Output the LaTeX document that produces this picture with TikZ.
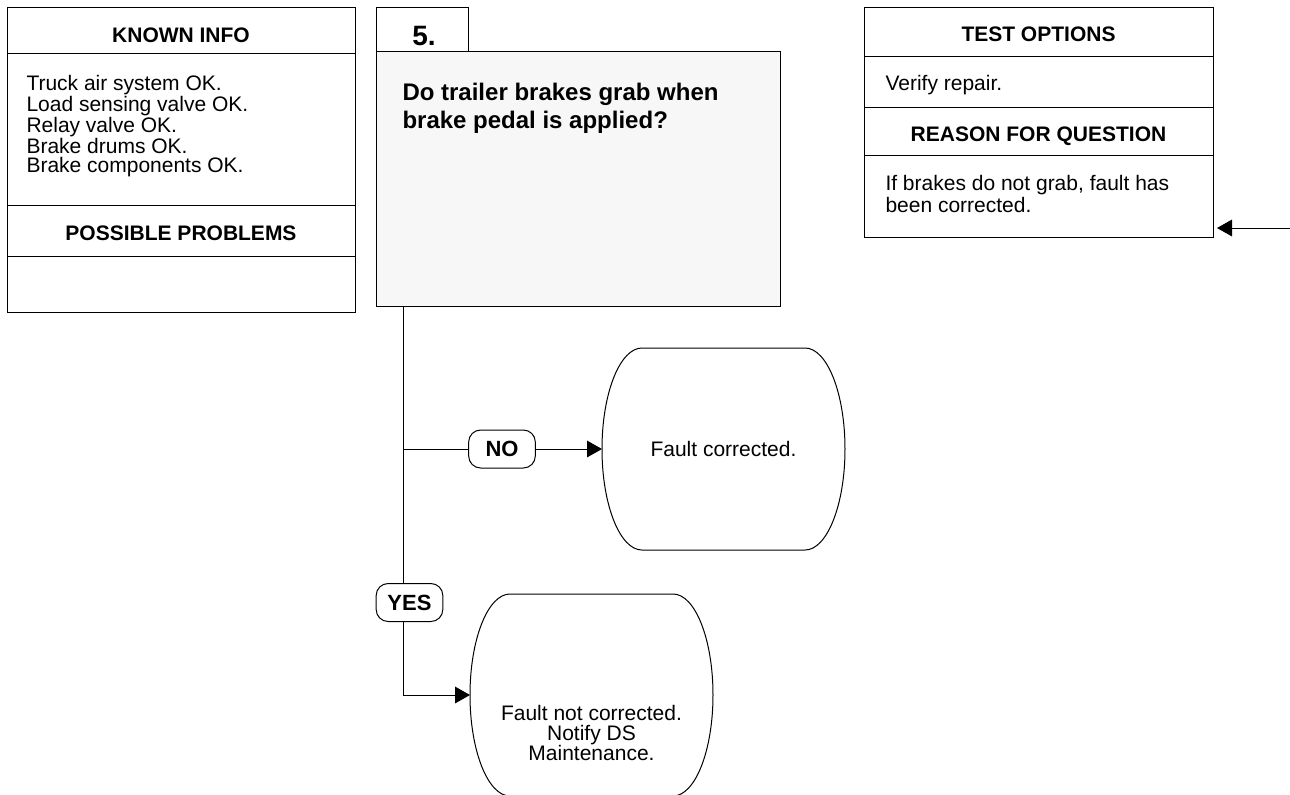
\documentclass[tikz,border=0pt]{standalone}
\usepackage{fontspec}
\setmainfont{Liberation Sans}
\usetikzlibrary{arrows.meta}

\definecolor{qfill}{RGB}{247,247,247}
\tikzset{every picture/.style={line width=0.75pt}}
\tikzset{
  bodytext/.style={font=\fontsize{15.75}{14.4}\selectfont},
  headtext/.style={font=\bfseries\fontsize{15.75}{14.4}\selectfont},
  questext/.style={font=\bfseries\fontsize{18}{21}\selectfont},
  branch/.style={draw, fill=white, rounded corners=9pt, minimum width=50pt, minimum height=28.5pt, inner sep=0pt, outer sep=0pt, font=\bfseries\fontsize{16.5}{16.5}\selectfont},
  terminal/.style={minimum width=182.25pt, minimum height=151.5pt, inner sep=0pt, outer sep=0pt, align=center, font=\fontsize{15.75}{15}\selectfont},
  flow/.style={-{Triangle[length=11.25pt,width=12.5pt]}},
}
% outline of a terminal: flat top and bottom, elliptic sides
\newcommand{\termoutline}[1]{%
  \draw ([xshift=30pt]#1.north west) -- ([xshift=-30pt]#1.north east)
    arc[start angle=-90, end angle=90, x radius=40, y radius=101]
    -- ([xshift=30pt]#1.south west)
    arc[start angle=90, end angle=270, x radius=40, y radius=101] -- cycle;}

\begin{document}
\begin{tikzpicture}[x=0.75pt,y=0.75pt,yscale=-1,xscale=1]
			\useasboundingbox (0,0) rectangle (1290,794);
			\clip (0,0) rectangle (1290,794);
			
			%Shape: Rectangle [id:known_panel] 
			\draw   (7,7) rectangle (355,312) ;
			%Straight Lines [id:known_rule1] 
			\draw    (7,53) -- (355,53) ;
			%Straight Lines [id:known_rule2] 
			\draw    (7,205) -- (355,205) ;
			%Straight Lines [id:known_rule3] 
			\draw    (7,256) -- (355,256) ;
			
			%Shape: Rectangle [id:step_tab] 
			\draw   (376,7) rectangle (468,51) ;
			%Shape: Rectangle [id:question_box] 
			\node [draw, fill=qfill, minimum width=303pt, minimum height=191.25pt, inner sep=0pt, outer sep=0pt] (q5) at (578,178.5) {};
			
			%Shape: Rectangle [id:test_panel] 
			\draw   (864,7) rectangle (1213,237) ;
			%Straight Lines [id:test_rule1] 
			\draw    (864,56) -- (1213,56) ;
			%Straight Lines [id:test_rule2] 
			\draw    (864,107) -- (1213,107) ;
			%Straight Lines [id:test_rule3] 
			\draw    (864,155) -- (1213,155) ;
			
			%Shape: Terminals 
			\node [terminal] (term1) at (723.5,449) {Fault corrected.};
			\node [terminal] (term2) at (591.5,695) {};
			\termoutline{term1}
			\termoutline{term2}
			
			%Shape: Branch labels 
			\node [branch] (no) at (502,449) {NO};
			\node [branch] (yes) at (409.5,602.5) {YES};
			
			%Connectors 
			\coordinate (trunk) at (403,306);
			\draw    (trunk) -- (trunk |- yes.north) ;
			\draw    (trunk |- no.west) -- (no.west) ;
			\draw [flow]   (no.east) -- (term1.west) ;
			\draw [flow]   (trunk |- yes.south) |- (term2.west) ;
			\coordinate (entry) at (1290,228);
			\coordinate (testedge) at (1217,228);
			\draw [flow]   (entry) -- (testedge) ;
			
			% Text Node
			\draw (181,42) node [anchor=base][inner sep=0pt] [headtext] (knownhead) {KNOWN INFO};
			% Text Node
			\draw (26,75) node [anchor=north west][inner sep=0pt] [align=left] [bodytext] (knownlist) {Truck air system OK.\\Load sensing valve OK.\\Relay valve OK.\\Brake drums OK.\\Brake components OK.};
			% Text Node
			\draw (181,240) node [anchor=base][inner sep=0pt] [headtext] (problemhead) {POSSIBLE PROBLEMS};
			% Text Node
			\draw (424,45) node [anchor=base][inner sep=0pt] [font=\bfseries\fontsize{21}{21}\selectfont] (stepno) {5.};
			% Text Node
			\draw (402,82.5) node [anchor=north west][inner sep=0pt] [align=left] [questext] (qtext) {Do trailer brakes grab when\\brake pedal is applied?};
			% Text Node
			\draw (1038.5,41) node [anchor=base][inner sep=0pt] [headtext] (testhead) {TEST OPTIONS};
			% Text Node
			\draw (885,75) node [anchor=north west][inner sep=0pt] [align=left] [bodytext] (testlist) {Verify repair.};
			% Text Node
			\draw (1038.5,141) node [anchor=base][inner sep=0pt] [headtext] (reasonhead) {REASON FOR QUESTION};
			% Text Node
			\draw (885,175) node [anchor=north west][inner sep=0pt] [align=left] [font=\fontsize{15.75}{16.2}\selectfont] (reasonlist) {If brakes do not grab, fault has\\been corrected.};
			% Text Node
			\draw (591.5,732.5) node [inner sep=0pt] [align=center] [font=\fontsize{15.75}{15}\selectfont] (term2text) {Fault not corrected.\\Notify DS\\Maintenance.};
		\end{tikzpicture}
\end{document}
